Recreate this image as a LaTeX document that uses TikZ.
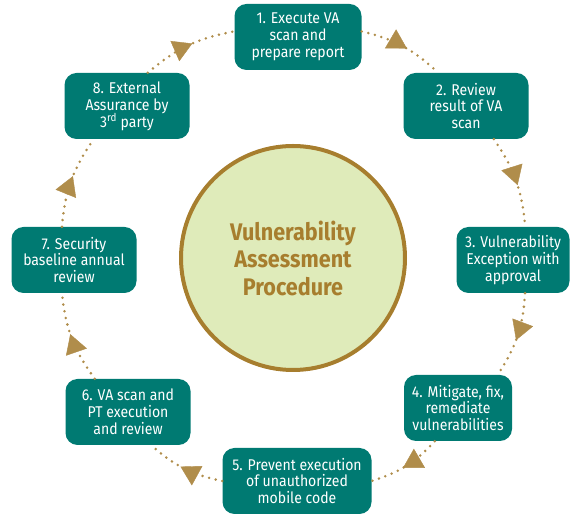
\documentclass[tikz,border=0pt]{standalone}
\usepackage{fontspec}
\setmainfont{Fira Sans}[FakeStretch=0.9]
\usepackage{tikz}
\usetikzlibrary{positioning, arrows.meta, decorations.markings}

\definecolor{vateal}{HTML}{007A72}
\definecolor{vagold}{HTML}{B08D4B}
\definecolor{vaedge}{HTML}{A77E2E}
\definecolor{vafill}{HTML}{DFEBBA}

\begin{document}
\begin{tikzpicture}[x=1pt, y=1pt,
    stepbox/.style={rectangle, rounded corners=12pt, fill=vateal, text=white, align=center,
      minimum height=66pt, inner sep=2pt, font=\fontsize{15.6}{16.9}\selectfont},
    flow/.style={vagold, line width=2.8pt, line cap=round, dash pattern=on 0pt off 6.8pt,
      postaction={decorate}, decoration={markings, mark=at position 0.55 with
      {\arrow[vagold, line width=0.4pt]{Triangle[length=19pt, width=22pt]}}}}
  ]
    \useasboundingbox (0,0) rectangle (584,519);

    % Central circle
    \node[circle, draw=vaedge, fill=vafill, line width=4pt, minimum size=224pt, text=vaedge,
      font=\bfseries\fontsize{24}{27.5}\selectfont, align=center] (va) at (293,261)
      {Vulnerability\\Assessment\\Procedure};

    % Steps round the circle
    \node[stepbox, minimum width=127pt] (b1) at (298,482) {1. Execute VA\\scan and\\prepare report};
    \node[stepbox, minimum width=125pt] (b2) at (466,413) {2. Review\\result of VA\\scan};
    \node[stepbox, minimum width=113pt] (b3) at (513,259) {3. Vulnerability\\Exception with\\approval};
    \node[stepbox, minimum width=108pt] (b4) at (458,111) {4. Mitigate, fix,\\remediate\\vulnerabilities};
    \node[stepbox, minimum width=149pt] (b5) at (297,38) {5. Prevent execution\\of unauthorized\\mobile code};
    \node[stepbox, minimum width=125pt] (b6) at (128,107) {6. VA scan and\\PT execution\\and review};
    \node[stepbox, minimum width=125pt] (b7) at (74,259) {7. Security\\baseline annual\\review};
    \node[stepbox, minimum width=125pt] (b8) at (127,413) {8. External\\Assurance by\\3\textsuperscript{rd} party};

    % Dotted cycle
    \foreach \s/\t in {b1.5/b2.130, b2.310/b3.70, b3.290/b4.40, b4.235/b5.0,
                       b5.180/b6.305, b6.135/b7.250, b7.110/b8.225, b8.58/b1.175}
        \draw[flow] (\s) to[bend left=15] (\t);
\end{tikzpicture}
\end{document}
